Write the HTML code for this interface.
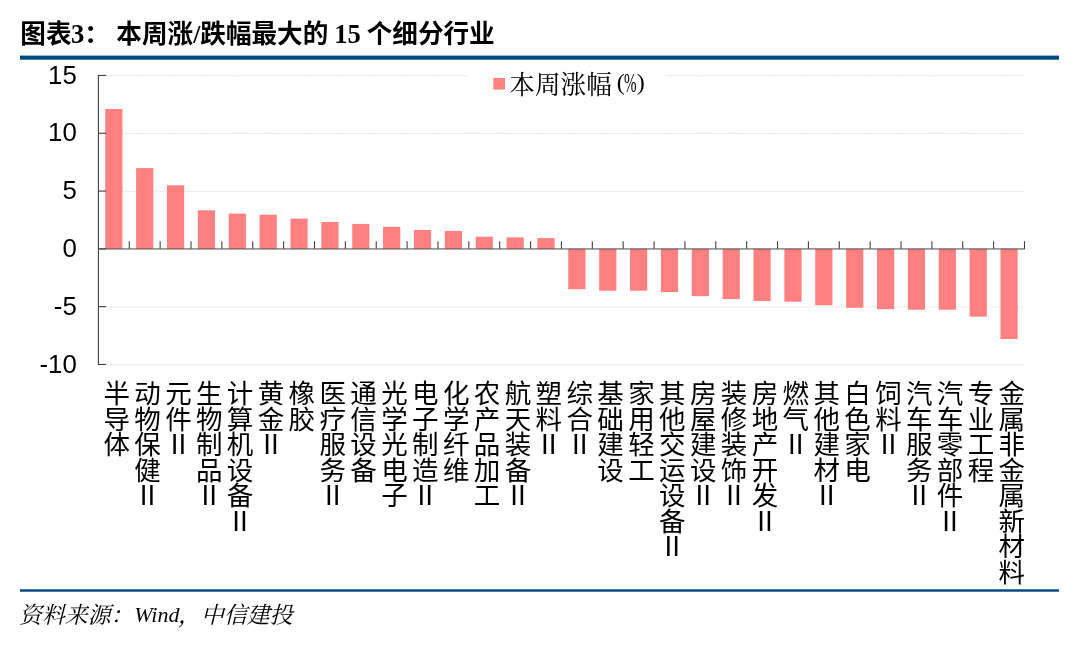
<!DOCTYPE html>
<html lang="zh-CN">
<head>
<meta charset="utf-8">
<title>图表3： 本周涨/跌幅最大的 15 个细分行业</title>
<style>
html,body{margin:0;padding:0;background:#fff}
body{width:1080px;height:653px;position:relative;overflow:hidden;font-family:"Liberation Sans",sans-serif}
svg{position:absolute;left:0;top:0;display:block;will-change:opacity}
.ax{font-family:"Liberation Sans",sans-serif;fill:#000}
.tb{font-family:"Liberation Serif","Noto Sans CJK SC",serif;font-weight:bold;fill:#000}
.sr{font-family:"Liberation Serif","Noto Serif CJK SC",serif;fill:#000}
.si{font-family:"Liberation Serif","Noto Serif CJK SC",serif;font-style:italic;fill:#000}
.xl{font-family:"Liberation Sans","Noto Sans CJK SC",sans-serif;fill:#000}
</style>
</head>
<body>
<svg width="1080" height="653" viewBox="0 0 1080 653">
<g shape-rendering="auto">
<rect x="20" y="55.6" width="1039" height="4.1" fill="#004a80"/>
<rect x="20" y="589.25" width="1039" height="2.5" fill="#084c84"/>
<line x1="98.4" y1="75.75" x2="1024.5" y2="75.75" stroke="#e2e2e2" stroke-width="1" stroke-dasharray="2 0.9"/>
<line x1="98.4" y1="133.55" x2="1024.5" y2="133.55" stroke="#e2e2e2" stroke-width="1" stroke-dasharray="2 0.9"/>
<line x1="98.4" y1="191.35" x2="1024.5" y2="191.35" stroke="#e2e2e2" stroke-width="1" stroke-dasharray="2 0.9"/>
<line x1="98.4" y1="306.95" x2="1024.5" y2="306.95" stroke="#e2e2e2" stroke-width="1" stroke-dasharray="2 0.9"/>
<line x1="98.4" y1="364.75" x2="1024.5" y2="364.75" stroke="#e2e2e2" stroke-width="1" stroke-dasharray="2 0.9"/>
<rect x="105.24" y="109" width="17.2" height="139.85" fill="#ff8080"/>
<rect x="136.11" y="168.1" width="17.2" height="80.75" fill="#ff8080"/>
<rect x="166.97" y="185.3" width="17.2" height="63.55" fill="#ff8080"/>
<rect x="197.84" y="210.3" width="17.2" height="38.55" fill="#ff8080"/>
<rect x="228.72" y="213.6" width="17.2" height="35.25" fill="#ff8080"/>
<rect x="259.58" y="214.7" width="17.2" height="34.15" fill="#ff8080"/>
<rect x="290.45" y="218.6" width="17.2" height="30.25" fill="#ff8080"/>
<rect x="321.32" y="222" width="17.2" height="26.85" fill="#ff8080"/>
<rect x="352.19" y="223.9" width="17.2" height="24.95" fill="#ff8080"/>
<rect x="383.06" y="226.8" width="17.2" height="22.05" fill="#ff8080"/>
<rect x="413.93" y="230" width="17.2" height="18.85" fill="#ff8080"/>
<rect x="444.8" y="230.9" width="17.2" height="17.95" fill="#ff8080"/>
<rect x="475.67" y="236.7" width="17.2" height="12.15" fill="#ff8080"/>
<rect x="506.54" y="237.4" width="17.2" height="11.45" fill="#ff8080"/>
<rect x="537.41" y="238.1" width="17.2" height="10.75" fill="#ff8080"/>
<rect x="568.28" y="248.85" width="17.2" height="40.35" fill="#ff8080"/>
<rect x="599.15" y="248.85" width="17.2" height="41.85" fill="#ff8080"/>
<rect x="630.02" y="248.85" width="17.2" height="41.85" fill="#ff8080"/>
<rect x="660.89" y="248.85" width="17.2" height="43.25" fill="#ff8080"/>
<rect x="691.76" y="248.85" width="17.2" height="47.35" fill="#ff8080"/>
<rect x="722.63" y="248.85" width="17.2" height="50.25" fill="#ff8080"/>
<rect x="753.5" y="248.85" width="17.2" height="52.15" fill="#ff8080"/>
<rect x="784.38" y="248.85" width="17.2" height="52.85" fill="#ff8080"/>
<rect x="815.25" y="248.85" width="17.2" height="56.45" fill="#ff8080"/>
<rect x="846.12" y="248.85" width="17.2" height="58.95" fill="#ff8080"/>
<rect x="876.99" y="248.85" width="17.2" height="60.35" fill="#ff8080"/>
<rect x="907.86" y="248.85" width="17.2" height="60.85" fill="#ff8080"/>
<rect x="938.73" y="248.85" width="17.2" height="60.85" fill="#ff8080"/>
<rect x="969.6" y="248.85" width="17.2" height="67.85" fill="#ff8080"/>
<rect x="1000.47" y="248.85" width="17.2" height="90.15" fill="#ff8080"/>
<line x1="98.4" y1="75" x2="98.4" y2="364.95" stroke="#404040" stroke-width="1.1"/>
<line x1="98.4" y1="248.95" x2="1025" y2="248.95" stroke="#484848" stroke-width="1"/>
<line x1="98.4" y1="75.45" x2="106.1" y2="75.45" stroke="#404040" stroke-width="1.1"/>
<line x1="98.4" y1="133.25" x2="106.1" y2="133.25" stroke="#404040" stroke-width="1.1"/>
<line x1="98.4" y1="191.05" x2="106.1" y2="191.05" stroke="#404040" stroke-width="1.1"/>
<line x1="98.4" y1="248.85" x2="106.1" y2="248.85" stroke="#404040" stroke-width="1.1"/>
<line x1="98.4" y1="306.65" x2="106.1" y2="306.65" stroke="#404040" stroke-width="1.1"/>
<line x1="98.4" y1="364.45" x2="106.1" y2="364.45" stroke="#404040" stroke-width="1.1"/>
<line x1="129.27" y1="248.85" x2="129.27" y2="241.15" stroke="#404040" stroke-width="1.1"/>
<line x1="160.14" y1="248.85" x2="160.14" y2="241.15" stroke="#404040" stroke-width="1.1"/>
<line x1="191.01" y1="248.85" x2="191.01" y2="241.15" stroke="#404040" stroke-width="1.1"/>
<line x1="221.88" y1="248.85" x2="221.88" y2="241.15" stroke="#404040" stroke-width="1.1"/>
<line x1="252.75" y1="248.85" x2="252.75" y2="241.15" stroke="#404040" stroke-width="1.1"/>
<line x1="283.62" y1="248.85" x2="283.62" y2="241.15" stroke="#404040" stroke-width="1.1"/>
<line x1="314.49" y1="248.85" x2="314.49" y2="241.15" stroke="#404040" stroke-width="1.1"/>
<line x1="345.36" y1="248.85" x2="345.36" y2="241.15" stroke="#404040" stroke-width="1.1"/>
<line x1="376.23" y1="248.85" x2="376.23" y2="241.15" stroke="#404040" stroke-width="1.1"/>
<line x1="407.1" y1="248.85" x2="407.1" y2="241.15" stroke="#404040" stroke-width="1.1"/>
<line x1="437.97" y1="248.85" x2="437.97" y2="241.15" stroke="#404040" stroke-width="1.1"/>
<line x1="468.84" y1="248.85" x2="468.84" y2="241.15" stroke="#404040" stroke-width="1.1"/>
<line x1="499.71" y1="248.85" x2="499.71" y2="241.15" stroke="#404040" stroke-width="1.1"/>
<line x1="530.58" y1="248.85" x2="530.58" y2="241.15" stroke="#404040" stroke-width="1.1"/>
<line x1="561.45" y1="248.85" x2="561.45" y2="241.15" stroke="#404040" stroke-width="1.1"/>
<line x1="592.32" y1="248.85" x2="592.32" y2="241.15" stroke="#404040" stroke-width="1.1"/>
<line x1="623.19" y1="248.85" x2="623.19" y2="241.15" stroke="#404040" stroke-width="1.1"/>
<line x1="654.06" y1="248.85" x2="654.06" y2="241.15" stroke="#404040" stroke-width="1.1"/>
<line x1="684.93" y1="248.85" x2="684.93" y2="241.15" stroke="#404040" stroke-width="1.1"/>
<line x1="715.8" y1="248.85" x2="715.8" y2="241.15" stroke="#404040" stroke-width="1.1"/>
<line x1="746.67" y1="248.85" x2="746.67" y2="241.15" stroke="#404040" stroke-width="1.1"/>
<line x1="777.54" y1="248.85" x2="777.54" y2="241.15" stroke="#404040" stroke-width="1.1"/>
<line x1="808.41" y1="248.85" x2="808.41" y2="241.15" stroke="#404040" stroke-width="1.1"/>
<line x1="839.28" y1="248.85" x2="839.28" y2="241.15" stroke="#404040" stroke-width="1.1"/>
<line x1="870.15" y1="248.85" x2="870.15" y2="241.15" stroke="#404040" stroke-width="1.1"/>
<line x1="901.02" y1="248.85" x2="901.02" y2="241.15" stroke="#404040" stroke-width="1.1"/>
<line x1="931.89" y1="248.85" x2="931.89" y2="241.15" stroke="#404040" stroke-width="1.1"/>
<line x1="962.76" y1="248.85" x2="962.76" y2="241.15" stroke="#404040" stroke-width="1.1"/>
<line x1="993.63" y1="248.85" x2="993.63" y2="241.15" stroke="#404040" stroke-width="1.1"/>
<line x1="1024.5" y1="248.85" x2="1024.5" y2="241.15" stroke="#404040" stroke-width="1.1"/>
<text x="76.8" y="83.6" text-anchor="end" font-size="25.8" class="ax">15</text>
<text x="76.8" y="141.4" text-anchor="end" font-size="25.8" class="ax">10</text>
<text x="76.8" y="199.2" text-anchor="end" font-size="25.8" class="ax">5</text>
<text x="76.8" y="257" text-anchor="end" font-size="25.8" class="ax">0</text>
<text x="76.8" y="314.8" text-anchor="end" font-size="25.8" class="ax">-5</text>
<text x="76.8" y="372.6" text-anchor="end" font-size="25.8" class="ax">-10</text>
<rect x="468.5" y="66" width="196.5" height="36" fill="#fff"/>
<rect x="493.3" y="77.9" width="11.7" height="11.7" fill="#ff8080"/>
<text y="42.8" font-size="25.6" class="tb"><tspan x="20.35">图表</tspan><tspan x="70.95" font-size="26.6">3</tspan><tspan x="84.35">： </tspan><tspan x="116.35">本周涨</tspan><tspan x="193.15">/</tspan><tspan x="200.32">跌幅最大的 </tspan><tspan x="334.32" font-size="26.6">15</tspan><tspan x="360.32"> 个细分行业</tspan></text>
<text class="sr" font-size="24"><tspan x="509.35" y="93.6" font-size="25.6">本周涨幅</tspan><tspan x="624.8" y="89.6" text-anchor="end">(</tspan><tspan x="624.0" y="92.19999999999999" font-size="27.8" textLength="12.51" lengthAdjust="spacingAndGlyphs">%</tspan><tspan x="636.8" y="89.6">)</tspan></text>
<text y="622.0" font-size="22" class="si"><tspan x="19" y="622.7" font-size="22.9">资料来源：</tspan><tspan x="134.2" y="622.0">Wind</tspan><tspan x="178" y="622.7" font-size="22.9">，</tspan><tspan x="201.05" y="622.7" font-size="22.9">中信建投</tspan></text>
</g>
<g class="xl">
<text font-size="26.5" text-anchor="middle" x="116.64 116.64 116.64" y="403.27 428.77 454.27">半导体</text>
<text font-size="26.5" text-anchor="middle" x="147.51 147.51 147.51 147.51 147.51" y="403.27 428.77 454.27 479.77 505.27">动物保健Ⅱ</text>
<text font-size="26.5" text-anchor="middle" x="178.38 178.38 178.38" y="403.27 428.77 454.27">元件Ⅱ</text>
<text font-size="26.5" text-anchor="middle" x="209.25 209.25 209.25 209.25 209.25" y="403.27 428.77 454.27 479.77 505.27">生物制品Ⅱ</text>
<text font-size="26.5" text-anchor="middle" x="240.12 240.12 240.12 240.12 240.12 240.12" y="403.27 428.77 454.27 479.77 505.27 530.77">计算机设备Ⅱ</text>
<text font-size="26.5" text-anchor="middle" x="270.99 270.99 270.99" y="403.27 428.77 454.27">黄金Ⅱ</text>
<text font-size="26.5" text-anchor="middle" x="301.86 301.86" y="403.27 428.77">橡胶</text>
<text font-size="26.5" text-anchor="middle" x="332.73 332.73 332.73 332.73 332.73" y="403.27 428.77 454.27 479.77 505.27">医疗服务Ⅱ</text>
<text font-size="26.5" text-anchor="middle" x="363.59 363.59 363.59 363.59" y="403.27 428.77 454.27 479.77">通信设备</text>
<text font-size="26.5" text-anchor="middle" x="394.46 394.46 394.46 394.46 394.46" y="403.27 428.77 454.27 479.77 505.27">光学光电子</text>
<text font-size="26.5" text-anchor="middle" x="425.33 425.33 425.33 425.33 425.33" y="403.27 428.77 454.27 479.77 505.27">电子制造Ⅱ</text>
<text font-size="26.5" text-anchor="middle" x="456.2 456.2 456.2 456.2" y="403.27 428.77 454.27 479.77">化学纤维</text>
<text font-size="26.5" text-anchor="middle" x="487.07 487.07 487.07 487.07 487.07" y="403.27 428.77 454.27 479.77 505.27">农产品加工</text>
<text font-size="26.5" text-anchor="middle" x="517.94 517.94 517.94 517.94 517.94" y="403.27 428.77 454.27 479.77 505.27">航天装备Ⅱ</text>
<text font-size="26.5" text-anchor="middle" x="548.81 548.81 548.81" y="403.27 428.77 454.27">塑料Ⅱ</text>
<text font-size="26.5" text-anchor="middle" x="579.68 579.68 579.68" y="403.27 428.77 454.27">综合Ⅱ</text>
<text font-size="26.5" text-anchor="middle" x="610.55 610.55 610.55 610.55" y="403.27 428.77 454.27 479.77">基础建设</text>
<text font-size="26.5" text-anchor="middle" x="641.42 641.42 641.42 641.42" y="403.27 428.77 454.27 479.77">家用轻工</text>
<text font-size="26.5" text-anchor="middle" x="672.29 672.29 672.29 672.29 672.29 672.29 672.29" y="403.27 428.77 454.27 479.77 505.27 530.77 556.27">其他交运设备Ⅱ</text>
<text font-size="26.5" text-anchor="middle" x="703.16 703.16 703.16 703.16 703.16" y="403.27 428.77 454.27 479.77 505.27">房屋建设Ⅱ</text>
<text font-size="26.5" text-anchor="middle" x="734.03 734.03 734.03 734.03 734.03" y="403.27 428.77 454.27 479.77 505.27">装修装饰Ⅱ</text>
<text font-size="26.5" text-anchor="middle" x="764.9 764.9 764.9 764.9 764.9 764.9" y="403.27 428.77 454.27 479.77 505.27 530.77">房地产开发Ⅱ</text>
<text font-size="26.5" text-anchor="middle" x="795.77 795.77 795.77" y="403.27 428.77 454.27">燃气Ⅱ</text>
<text font-size="26.5" text-anchor="middle" x="826.64 826.64 826.64 826.64 826.64" y="403.27 428.77 454.27 479.77 505.27">其他建材Ⅱ</text>
<text font-size="26.5" text-anchor="middle" x="857.51 857.51 857.51 857.51" y="403.27 428.77 454.27 479.77">白色家电</text>
<text font-size="26.5" text-anchor="middle" x="888.38 888.38 888.38" y="403.27 428.77 454.27">饲料Ⅱ</text>
<text font-size="26.5" text-anchor="middle" x="919.25 919.25 919.25 919.25 919.25" y="403.27 428.77 454.27 479.77 505.27">汽车服务Ⅱ</text>
<text font-size="26.5" text-anchor="middle" x="950.12 950.12 950.12 950.12 950.12 950.12" y="403.27 428.77 454.27 479.77 505.27 530.77">汽车零部件Ⅱ</text>
<text font-size="26.5" text-anchor="middle" x="981 981 981 981" y="403.27 428.77 454.27 479.77">专业工程</text>
<text font-size="26.5" text-anchor="middle" x="1011.87 1011.87 1011.87 1011.87 1011.87 1011.87 1011.87 1011.87" y="403.27 428.77 454.27 479.77 505.27 530.77 556.27 581.77">金属非金属新材料</text>
</g>
</svg>
</body>
</html>
